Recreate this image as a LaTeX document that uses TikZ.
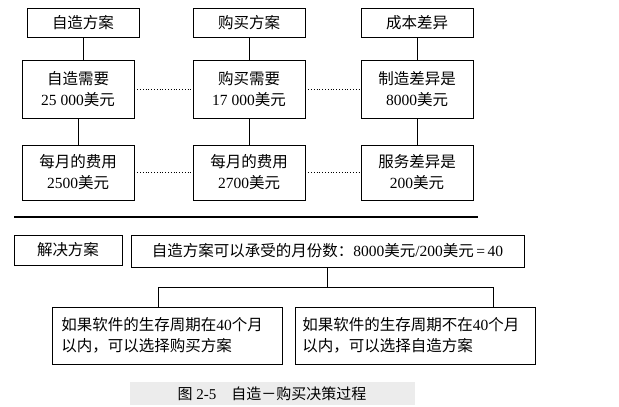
\documentclass[tikz,border=0pt]{standalone}
\usepackage{fontspec}
\setmainfont{Liberation Serif}
\newfontfamily\cjk{Noto Sans CJK SC}
\newcommand{\zh}[1]{{\cjk #1}}
\begin{document}
\begin{tikzpicture}[x=1pt,y=-1pt,
  box/.style={draw,line width=0.8pt,inner sep=0pt,align=center,font=\fontsize{15.5}{21}\selectfont},
  ln/.style={line width=0.8pt},
  dot/.style={dotted,line width=0.8pt}]
\useasboundingbox (0,0) rectangle (619,407);
\def\bx(#1,#2,#3,#4)#5#6{\node[box,minimum width=#3-#1,minimum height=#4-#2] (#5) at ({(#1+#3)/2},{(#2+#4)/2}) {#6};}
\bx(27,8,139,37){a1}{\zh{自造方案}}
\bx(193,8,305,37){b1}{\zh{购买方案}}
\bx(361,8,473,37){c1}{\zh{成本差异}}
\bx(22,60,134,118){a2}{\zh{自造需要}\\25 000\zh{美元}}
\bx(193,60,305,118){b2}{\zh{购买需要}\\17 000\zh{美元}}
\bx(361,60,473,118){c2}{\zh{制造差异是}\\8000\zh{美元}}
\bx(22,145,134,200){a3}{\zh{每月的费用}\\2500\zh{美元}}
\bx(193,145,305,200){b3}{\zh{每月的费用}\\2700\zh{美元}}
\bx(361,145,473,200){c3}{\zh{服务差异是}\\200\zh{美元}}
\foreach \c in {a,b,c}{
  \draw[ln] (\c1.south) -- (\c1.south |- \c2.north);
  \draw[ln] (\c2.south) -- (\c2.south |- \c3.north);}
\draw[dot] (a2) -- (b2); \draw[dot] (b2) -- (c2);
\draw[dot] (a3) -- (b3); \draw[dot] (b3) -- (c3);
\draw[line width=1.5pt] (14,217) -- (478,217);
\bx(14,235,122,265){s}{\zh{解决方案}}
\bx(131,235,524,267){m}{\zh{自造方案可以承受的月份数：}8000\zh{美元}/200\zh{美元}\,=\,40}
\bx(52,307,282,364){l}{}
\bx(295,307,535,364){r}{}
\node[box,draw=none,align=left,anchor=west] (lt) at (61,335.5) {\zh{如果软件的生存周期在}40\zh{个月}\\\zh{以内，可以选择购买方案}};
\node[box,draw=none,align=left,anchor=west] (rt) at (302,335.5) {\zh{如果软件的生存周期不在}40\zh{个月}\\\zh{以内，可以选择自造方案}};
\coordinate (j) at (327,287);
\draw[ln] (m.south -| j) -- (j);
\draw[ln] (l.north -| 158,0) -- (158,287) -- (493,287) -- (r.north -| 493,0);
\fill[gray!15] (130,382) rectangle (415,405);
\node[font=\fontsize{15}{17}\selectfont] (cap) at (272,394) {\zh{图} 2-5\quad\zh{自造－购买决策过程}};
\end{tikzpicture}
\end{document}
